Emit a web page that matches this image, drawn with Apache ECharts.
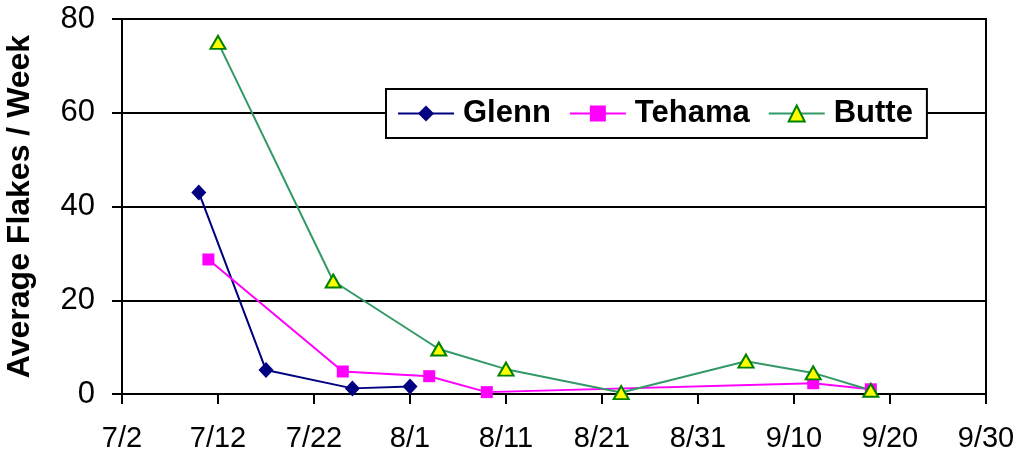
<!DOCTYPE html>
<html>
<head>
<meta charset="utf-8">
<script src="https://cdn.jsdelivr.net/npm/echarts@6/dist/echarts.min.js"></script>
<style>html,body{margin:0;padding:0;background:#fff}#c{width:1019px;height:460px}</style>
</head>
<body>
<div id="c"></div>
<script>
// Data (dates are month/day; year irrelevant)
const startDate = '7/2';
const xTickLabels = ['7/2','7/12','7/22','8/1','8/11','8/21','8/31','9/10','9/20','9/30'];
const yTickLabels = [0, 20, 40, 60, 80];

const glennDates = ['7/10','7/17','7/26','8/1'];
const glennValues = [43, 5.1, 1.2, 1.6];

const tehamaDates = ['7/11','7/25','8/3','8/9','9/12','9/18'];
const tehamaValues = [28.7, 4.8, 3.8, 0.4, 2.3, 1.0];

const butteDates = ['7/12','7/24','8/4','8/11','8/23','9/5','9/12','9/18'];
const butteValues = [75, 24.1, 9.6, 5.3, 0.3, 7.0, 4.5, 0.8];

const seriesNames = ['Glenn','Tehama','Butte'];

function toDate(s){ const p = s.split('/'); return new Date(2000, +p[0]-1, +p[1]); }
const base = toDate(startDate);
function dayOffset(s){ return Math.round((toDate(s) - base) / 86400000); }
function pairs(dates, vals){ return dates.map((d,i)=>[dayOffset(d), vals[i]]); }
const xMax = dayOffset(xTickLabels[xTickLabels.length-1]);
function labelFor(v){ const d = new Date(base.getTime() + v*86400000); return (d.getMonth()+1) + '/' + d.getDate(); }

const chart = echarts.init(document.getElementById('c'), null, {renderer:'canvas'});
const font = 'Arial, "Liberation Sans", sans-serif';
chart.setOption({
  animation: false,
  backgroundColor: '#ffffff',
  grid: { left: 122, right: 33, top: 19, bottom: 66, show: true, borderColor: '#000', borderWidth: 2,
          backgroundColor: 'transparent', containLabel: false, outerBoundsMode: 'none' },
  legend: {
    data: seriesNames,
    left: 386, top: 89,
    orient: 'horizontal',
    borderColor: '#000', borderWidth: 2, backgroundColor: '#fff',
    padding: [9, 14, 9, 11],
    itemWidth: 56, itemHeight: 20, itemGap: 18,
    textStyle: { fontFamily: font, fontWeight: 'bold', fontSize: 31, color: '#000', padding: [0, 0, 0, 4] }
  },
  xAxis: {
    type: 'value', min: 0, max: xMax, interval: 10,
    axisLine: { show: true, lineStyle: { color: '#000', width: 2 } },
    axisTick: { show: true, length: 10, inside: false, lineStyle: { color: '#000', width: 2 } },
    splitLine: { show: false },
    axisLabel: { formatter: labelFor, fontFamily: font, fontSize: 29, color: '#000', margin: 30 }
  },
  yAxis: {
    type: 'value', min: yTickLabels[0], max: yTickLabels[yTickLabels.length-1], interval: 20,
    name: 'Average Flakes / Week', nameLocation: 'middle', nameGap: 86,
    nameTextStyle: { fontFamily: font, fontWeight: 'bold', fontSize: 32, color: '#000' },
    axisLine: { show: true, lineStyle: { color: '#000', width: 2 } },
    axisTick: { show: true, length: 10, lineStyle: { color: '#000', width: 2 } },
    splitLine: { show: true, lineStyle: { color: '#000', width: 2 } },
    axisLabel: { fontFamily: font, fontSize: 31, color: '#000', margin: 27 }
  },
  series: [
    { name: 'Glenn', type: 'line', data: pairs(glennDates, glennValues),
      symbol: 'diamond', symbolSize: [15, 16],
      lineStyle: { color: '#000080', width: 2 },
      itemStyle: { color: '#000080' } },
    { name: 'Tehama', type: 'line', data: pairs(tehamaDates, tehamaValues),
      symbol: 'rect', symbolSize: 12,
      lineStyle: { color: '#FF00FF', width: 2 },
      itemStyle: { color: '#FF00FF' } },
    { name: 'Butte', type: 'line', data: pairs(butteDates, butteValues),
      symbol: 'triangle', symbolSize: [15, 13],
      lineStyle: { color: '#339966', width: 2 },
      itemStyle: { color: '#FFFF00', borderColor: '#008000', borderWidth: 2 } }
  ]
});
</script>
</body>
</html>
